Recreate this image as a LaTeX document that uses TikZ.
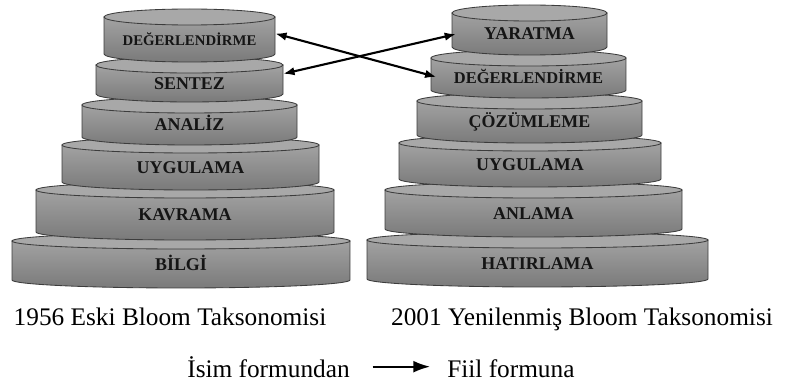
\documentclass[tikz,border=0pt]{standalone}
\usepackage{fontspec}
\setmainfont{Liberation Serif}
\usetikzlibrary{arrows.meta, positioning}
\definecolor{tiertop}{HTML}{A8A8A8}
\definecolor{tierhi}{HTML}{A2A2A2}
\definecolor{tierlo}{HTML}{7A7A7A}
\definecolor{tierline}{HTML}{3C3C3C}
\definecolor{labeltext}{HTML}{151515}

% name, centre x, half width, top y, bottom y, label, font size
\newcommand{\drawtier}[7]{%
  \shade[tierbody] (#2-#3,-#4) -- (#2-#3,-#5)
    arc[start angle=180, end angle=360, x radius=#3, y radius=8] -- (#2+#3,-#4) -- cycle;
  \draw[tiercap] (#2,-#4) ellipse[x radius=#3, y radius=8];
  \node[tierlabel, font=\bfseries\fontsize{#7}{#7}\selectfont, minimum width={2*#3*0.025cm}]
    (#1) at (#2,{-(#4+#5)/2-10}) {#6};
}

\begin{document}
\begin{tikzpicture}[
    x=0.025cm, y=0.025cm,
    tierbody/.style={draw=tierline, line width=0.6pt, top color=tierhi, bottom color=tierlo},
    tiercap/.style={draw=tierline, line width=0.6pt, fill=tiertop},
    tierlabel/.style={inner sep=0pt, anchor=base, text=labeltext},
    caption/.style={font=\fontsize{18}{18}\selectfont, inner sep=0pt, anchor=base},
    link/.style={line width=1.5pt, {Latex[length=8pt, width=6pt]}-{Latex[length=8pt, width=6pt]}},
    flow/.style={line width=1.4pt, -{Latex[length=12pt, width=8.5pt]}}
]
\useasboundingbox (0,0) rectangle (792,-387);

% 1956 pyramid, bottom tier first
\drawtier{l6}{181}{169}{241}{280}{BİLGİ}{12.75}
\drawtier{l5}{185}{149}{190}{232}{KAVRAMA}{12.75}
\drawtier{l4}{190.5}{128.5}{145}{182}{UYGULAMA}{12.75}
\drawtier{l3}{189.5}{107.5}{105}{137}{ANALİZ}{12.75}
\drawtier{l2}{189.5}{93.5}{65}{94}{SENTEZ}{12.75}
\drawtier{l1}{189.5}{85.5}{17}{54}{DEĞERLENDİRME}{10.5}

% 2001 pyramid
\drawtier{r6}{537.5}{170.5}{240}{279}{HATIRLAMA}{12.75}
\drawtier{r5}{533.5}{148.5}{190}{229}{ANLAMA}{12.75}
\drawtier{r4}{530}{131}{143}{179}{UYGULAMA}{12.75}
\drawtier{r3}{529.5}{112.5}{101}{135}{ÇÖZÜMLEME}{12.75}
\drawtier{r2}{528.5}{97.5}{58}{90}{DEĞERLENDİRME}{11.7}
\drawtier{r1}{529.5}{77.5}{13}{47}{YARATMA}{12.75}

\draw[link] ([yshift=4pt]l1.east) -- ([xshift=4pt]r2.west);
\draw[link] ([yshift=7pt]l2.east) -- ([xshift=3pt]r1.west);

\node[caption] (old) at (170,-326) {1956 Eski Bloom Taksonomisi};
\node[caption] (new) at (582,-326) {2001 Yenilenmiş Bloom Taksonomisi};

\node[caption, anchor=base east] (isim) at (350,-377) {İsim formundan};
\node[caption, anchor=base west] (fiil) at (447,-377) {Fiil formuna};
\draw[flow, shorten <=16pt, shorten >=12pt] (isim.east) -- (isim.east -| fiil.west);

\end{tikzpicture}
\end{document}
